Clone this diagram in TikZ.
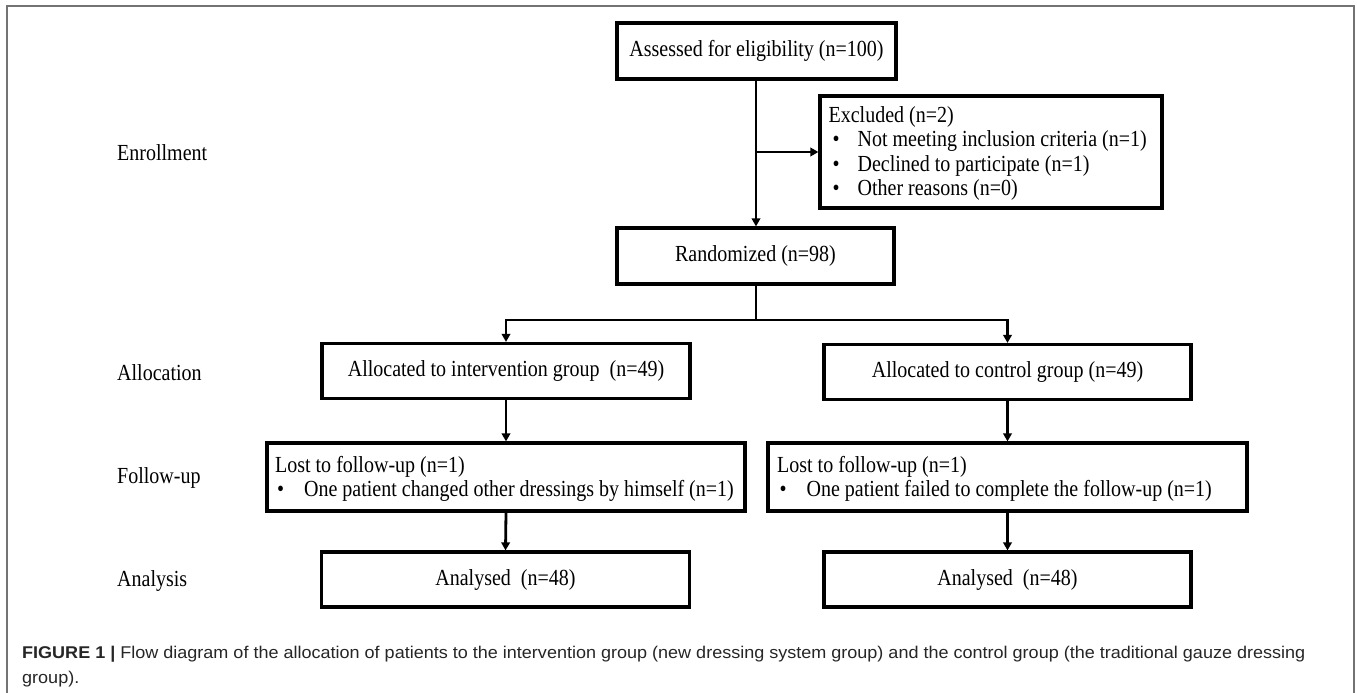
\documentclass[tikz,border=0pt]{standalone}
\usepackage{fontspec}
\setmainfont{Liberation Serif}
\newfontfamily\boxfont[FakeStretch=0.87]{Liberation Serif}
\newfontfamily\capfont[FakeStretch=1.06]{Liberation Sans}
\usetikzlibrary{arrows.meta}
\tikzset{
  box/.style={draw=black, line width=3.2pt, inner sep=0pt, font=\boxfont\fontsize{23}{24.3}\selectfont, align=center},
  frame/.style={draw=black, line width=3.2pt, inner sep=0pt},
  ltext/.style={anchor=west, inner sep=0pt, align=flush left, font=\boxfont\fontsize{23}{24.3}\selectfont},
  stage/.style={anchor=west, inner sep=0pt, font=\boxfont\fontsize{23}{24}\selectfont},
  conn/.style={line width=2.8pt},
  arr/.style={conn, -{Triangle[length=8pt,width=8.5pt]}},
  capt/.style={anchor=base west, inner sep=0pt, font=\capfont\fontsize{17}{22}\selectfont, text=black!85}
}
\newcommand{\blt}[2]{\hspace*{#1}\makebox[#2][l]{\textbullet}}
\begin{document}
\begin{tikzpicture}[x=1pt, y=-1pt]
\useasboundingbox (0,0) rectangle (1357,693);
\fill[white] (0,0) rectangle (1357,693);
% outer frame
\draw[line width=1.5pt, draw=black!55] (7,700) -- (7,6) -- (1354,6) -- (1354,700);

% stage labels
\node[stage] (lenr) at (117,153) {Enrollment};
\node[stage] (lall) at (117,373) {Allocation};
\node[stage] (lfu) at (117,478) {Follow-up};
\node[stage] (lan) at (117,581) {Analysis};

% boxes
\node[box, minimum width=279pt, minimum height=56pt] (assess) at (756.5,51) {Assessed for eligibility (n=100)};
\node[frame, minimum width=342pt, minimum height=112pt] (excl) at (991,152) {};
\node[ltext] (exclT) at ([xshift=10pt,yshift=-1.5pt]excl.west) {Excluded (n=2)\\
\blt{4pt}{25pt}Not meeting inclusion criteria (n=1)\\
\blt{4pt}{25pt}Declined to participate (n=1)\\
\blt{4pt}{25pt}Other reasons (n=0)};
\node[box, minimum width=277pt, minimum height=56pt] (rand) at (755.5,256) {Randomized (n=98)};
\node[box, minimum width=368pt, minimum height=55pt] (allocI) at (506,371) {Allocated to intervention group\ \ (n=49)};
\node[box, minimum width=367pt, minimum height=55pt] (allocC) at (1007.5,372) {Allocated to control group (n=49)};
\node[frame, minimum width=478pt, minimum height=68pt] (fuI) at (506,477) {};
\node[ltext] (fuIT) at ([xshift=9.5pt,yshift=-2pt]fuI.west) {Lost to follow-up (n=1)\\
\blt{2pt}{27pt}One patient changed other dressings by himself (n=1)};
\node[frame, minimum width=479pt, minimum height=68pt] (fuC) at (1007.5,477) {};
\node[ltext] (fuCT) at ([xshift=10.5pt,yshift=-2pt]fuC.west) {Lost to follow-up (n=1)\\
\blt{2.5pt}{27pt}One patient failed to complete the follow-up (n=1)};
\node[box, minimum width=368pt, minimum height=55pt] (anI) at (505.5,579.5) {Analysed\ \ (n=48)};
\node[box, minimum width=367pt, minimum height=55pt] (anC) at (1007.5,579.5) {Analysed\ \ (n=48)};

% connectors
\coordinate (trunk) at (756,79);
\coordinate (branch) at (trunk |- excl.west);
\draw[arr] (trunk) -- (trunk |- rand.north);
\draw[arr] (branch) -- (excl.west);
\coordinate (split) at (756,320);
\draw[conn] (756,284) coordinate (rs) -- (split);
\draw[arr] (split) -| (allocI.north);
\draw[arr] (split) -| (allocC.north);
\draw[arr] (allocI.south) -- (fuI.north);
\draw[arr] (fuI.south) -- (anI.north);
\draw[arr] (allocC.south) -- (fuC.north);
\draw[arr] (fuC.south) -- (anC.north);

% caption
\node[capt] (cap1) at (22,658) {\textbf{FIGURE 1 |} Flow diagram of the allocation of patients to the intervention group (new dressing system group) and the control group (the traditional gauze dressing};
\node[capt] (cap2) at (22,683) {group).};
\end{tikzpicture}
\end{document}
